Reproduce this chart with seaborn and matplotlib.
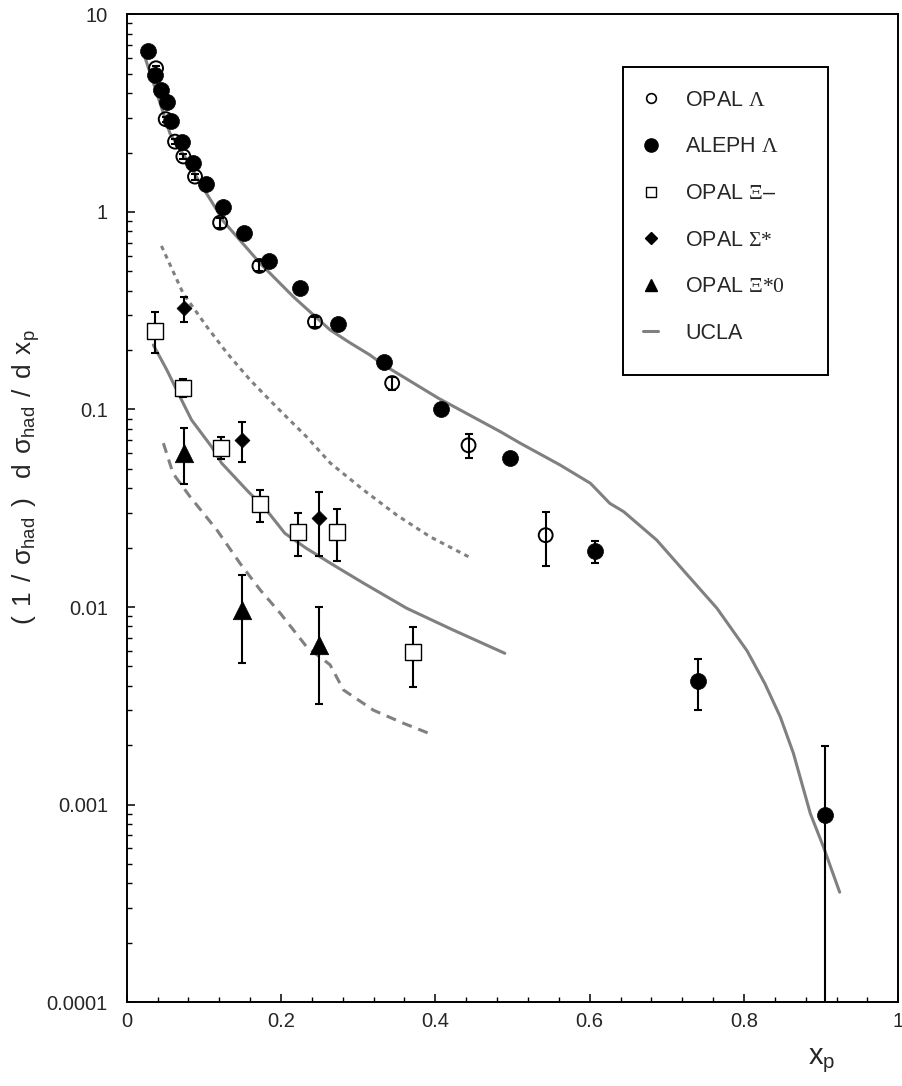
import numpy as np
import pandas as pd
import matplotlib
matplotlib.use("Agg")
import matplotlib.pyplot as plt
import seaborn as sns
from matplotlib.lines import Line2D
from matplotlib.patches import Rectangle
from matplotlib.ticker import FixedLocator, FixedFormatter, MultipleLocator, NullFormatter, LogLocator

# ---------------- data ----------------
aleph_x = [0.028, 0.037, 0.044, 0.052, 0.058, 0.071, 0.086, 0.103, 0.125, 0.152, 0.184,
           0.224, 0.274, 0.334, 0.407, 0.497, 0.607, 0.741, 0.905]
aleph_y = [6.56, 4.94, 4.15, 3.62, 2.90, 2.27, 1.78, 1.38, 1.06, 0.786, 0.565,
           0.414, 0.271, 0.173, 0.101, 0.0566, 0.0192, 0.00422, 0.00089]
aleph_lo = [6.40, 4.82, 4.05, 3.53, 2.83, 2.21, 1.74, 1.35, 1.03, 0.767, 0.551,
            0.404, 0.264, 0.169, 0.0985, 0.0552, 0.0167, 0.0030, 0.00001]
aleph_hi = [6.72, 5.06, 4.25, 3.71, 2.97, 2.33, 1.82, 1.41, 1.09, 0.805, 0.579,
            0.424, 0.278, 0.177, 0.1035, 0.0580, 0.0217, 0.00543, 0.00198]

opal_lam_x = [0.038, 0.0505, 0.0626, 0.0734, 0.0885, 0.121, 0.172, 0.244, 0.344, 0.443, 0.543]
opal_lam_y = [5.34, 2.95, 2.27, 1.91, 1.51, 0.883, 0.533, 0.278, 0.136, 0.0659, 0.0231]
opal_lam_lo = [5.18, 2.86, 2.20, 1.85, 1.46, 0.830, 0.501, 0.261, 0.1256, 0.0570, 0.0161]
opal_lam_hi = [5.50, 3.04, 2.34, 1.97, 1.56, 0.936, 0.565, 0.295, 0.1456, 0.0751, 0.0302]

xim_x = [0.0367, 0.0726, 0.1218, 0.1728, 0.2224, 0.273, 0.3714]
xim_y = [0.2506, 0.129, 0.0641, 0.0331, 0.024, 0.024, 0.00594]
xim_lo = [0.1926, 0.116, 0.0562, 0.027, 0.0181, 0.017, 0.00392]
xim_hi = [0.312, 0.142, 0.0723, 0.0391, 0.030, 0.0313, 0.00794]

sig_x = [0.0746, 0.1498, 0.2496]
sig_y = [0.3276, 0.0702, 0.0281]
sig_lo = [0.278, 0.054, 0.0181]
sig_hi = [0.372, 0.0861, 0.0381]

xi0_x = [0.0746, 0.1498, 0.2496]
xi0_y = [0.060, 0.00966, 0.00643]
xi0_lo = [0.042, 0.00522, 0.00323]
xi0_hi = [0.0803, 0.0145, 0.01003]

lam_curve_x = [0.024, 0.039, 0.056, 0.078, 0.095, 0.117, 0.125, 0.173, 0.216, 0.2635, 0.289,
               0.315, 0.333, 0.404, 0.484, 0.510, 0.5615, 0.601, 0.626, 0.644, 0.687, 0.721,
               0.765, 0.804, 0.827, 0.847, 0.864, 0.886, 0.903, 0.924]
lam_curve_y = [6.0, 3.99, 2.50, 1.83, 1.40, 1.02, 0.90, 0.549, 0.372, 0.253, 0.218,
               0.189, 0.168, 0.114, 0.0773, 0.0675, 0.0524, 0.0423, 0.0335, 0.0304, 0.0218, 0.0154,
               0.00985, 0.0060, 0.0041, 0.00278, 0.00182, 0.00090, 0.00061, 0.00036]

sig_curve_x = [0.045, 0.073, 0.104, 0.130, 0.160, 0.194, 0.233, 0.264, 0.307, 0.350, 0.393, 0.445]
sig_curve_y = [0.673, 0.388, 0.262, 0.193, 0.141, 0.103, 0.0728, 0.0535, 0.0391, 0.0292, 0.0227, 0.0178]

xim_curve_x = [0.0345, 0.052, 0.069, 0.084, 0.110, 0.123, 0.1555, 0.181, 0.205, 0.233, 0.268,
               0.307, 0.363, 0.423, 0.490]
xim_curve_y = [0.212, 0.1585, 0.116, 0.0885, 0.0648, 0.0535, 0.0391, 0.031, 0.0236, 0.0198, 0.0163,
               0.0132, 0.00985, 0.00765, 0.00583]

xi0_curve_x = [0.0475, 0.060, 0.082, 0.117, 0.147, 0.173, 0.199, 0.233, 0.2635, 0.281, 0.320,
               0.3585, 0.397]
xi0_curve_y = [0.0675, 0.0475, 0.0362, 0.0245, 0.0166, 0.0122, 0.0093, 0.0063, 0.0051, 0.0038,
               0.0030, 0.00258, 0.00225]

x_ticks = [0, 0.2, 0.4, 0.6, 0.8, 1.0]
x_tick_labels = ["0", "0.2", "0.4", "0.6", "0.8", "1"]
y_ticks = [0.0001, 0.001, 0.01, 0.1, 1, 10]
y_tick_labels = ["0.0001", "0.001", "0.01", "0.1", "1", "10"]

legend_labels = [r"OPAL $\mathcal{\Lambda}$", r"ALEPH $\mathcal{\Lambda}$",
                 r"OPAL $\mathcal{\Xi}$–", r"OPAL $\mathcal{\Sigma{*}}$",
                 r"OPAL $\mathcal{\Xi{*}0}$", "UCLA"]

# y-axis title, letter-spaced like the original
_s = r"\hspace{0.45}"
y_title = ("$\\mathrm{(}" + _s + "\\mathrm{1}" + _s + "\\mathrm{/}" + _s +
           "\\sigma_{\\mathrm{had}}" + _s + "\\mathrm{)}" + _s + _s +
           "\\mathrm{d}" + _s + "\\sigma_{\\mathrm{had}}" + _s +
           "\\mathrm{/}" + _s + "\\mathrm{d}" + _s + "\\mathrm{x}_{\\mathrm{p}}$")
x_title = r"x$_{\rm p}$"

# ---------------- style ----------------
sns.set_theme(style="white")
plt.rcParams["font.family"] = ["Liberation Sans", "DejaVu Sans"]
plt.rcParams["mathtext.fontset"] = "custom"
plt.rcParams["mathtext.rm"] = "Liberation Sans"
plt.rcParams["mathtext.it"] = "Liberation Sans"
plt.rcParams["mathtext.sf"] = "Liberation Sans"
plt.rcParams["mathtext.cal"] = "Liberation Serif"

GRAY = "#808080"
LW = 2.2

fig = plt.figure(figsize=(9.02, 10.86), dpi=100)
ax = fig.add_axes([0.1405, 0.0773, 0.8554, 0.9094])
ax.set_yscale("log")

# ---------------- model curves ----------------
sns.lineplot(x=lam_curve_x, y=lam_curve_y, ax=ax, color=GRAY, lw=LW, sort=False,
             estimator=None, zorder=1)
sns.lineplot(x=xim_curve_x, y=xim_curve_y, ax=ax, color=GRAY, lw=LW, sort=False,
             estimator=None, zorder=1)
sns.lineplot(x=sig_curve_x, y=sig_curve_y, ax=ax, color=GRAY, lw=LW, sort=False,
             estimator=None, zorder=1, linestyle=(0, (1.5, 1.5)), dash_capstyle="butt")
sns.lineplot(x=xi0_curve_x, y=xi0_curve_y, ax=ax, color=GRAY, lw=LW, sort=False,
             estimator=None, zorder=1, linestyle=(0, (3.3, 2.3)), dash_capstyle="butt")

# ---------------- error bars ----------------
def ebar(x, y, lo, hi):
    y = np.asarray(y); lo = np.asarray(lo); hi = np.asarray(hi)
    ax.errorbar(x, y, yerr=[y - lo, hi - y], fmt="none", ecolor="black",
                elinewidth=1.5, capsize=3.0, capthick=1.5, zorder=2)

ebar(opal_lam_x, opal_lam_y, opal_lam_lo, opal_lam_hi)
ebar(aleph_x, aleph_y, aleph_lo, aleph_hi)
ebar(xim_x, xim_y, xim_lo, xim_hi)
ebar(sig_x, sig_y, sig_lo, sig_hi)
ebar(xi0_x, xi0_y, xi0_lo, xi0_hi)

# ---------------- data markers ----------------
sns.scatterplot(x=opal_lam_x, y=opal_lam_y, ax=ax, marker="o", s=100, color="black",
                edgecolor="black", linewidth=1.4, zorder=3)
ax.collections[-1].set_facecolor("none")
sns.scatterplot(x=aleph_x, y=aleph_y, ax=ax, marker="o", s=132, color="black",
                edgecolor="black", linewidth=0.5, zorder=4)
sns.scatterplot(x=xim_x, y=xim_y, ax=ax, marker="s", s=117, color="white",
                edgecolor="black", linewidth=1.0, zorder=3)
sns.scatterplot(x=sig_x, y=sig_y, ax=ax, marker="D", s=58, color="black",
                edgecolor="black", linewidth=0.5, zorder=3)
sns.scatterplot(x=xi0_x, y=xi0_y, ax=ax, marker="^", s=177, color="black",
                edgecolor="black", linewidth=0.5, zorder=3)

# ---------------- axes ----------------
ax.set_xlim(0, 1)
ax.set_ylim(0.0001, 10)
ax.xaxis.set_major_locator(FixedLocator(x_ticks))
ax.xaxis.set_major_formatter(FixedFormatter(x_tick_labels))
ax.xaxis.set_minor_locator(MultipleLocator(0.04))
ax.yaxis.set_major_locator(FixedLocator(y_ticks))
ax.yaxis.set_major_formatter(FixedFormatter(y_tick_labels))
ax.yaxis.set_minor_locator(LogLocator(base=10, subs=np.arange(2, 10)))
ax.yaxis.set_minor_formatter(NullFormatter())

ax.tick_params(axis="both", which="both", direction="in", color="black",
               bottom=True, left=True, top=False, right=False)
ax.tick_params(axis="both", which="major", length=6, width=1.1, labelsize=14.5)
ax.tick_params(axis="both", which="minor", length=3.3, width=1.0)
ax.tick_params(axis="y", which="major", pad=13.5)
ax.tick_params(axis="x", which="major", pad=7)

for sp in ax.spines.values():
    sp.set_visible(True)
    sp.set_color("black")
    sp.set_linewidth(1.4)
ax.grid(False)
ax.set_facecolor("white")

ax.set_ylabel(y_title, fontsize=19)
ax.yaxis.set_label_coords(-0.11, 0.531)
ax.set_xlabel(x_title, fontsize=21)
ax.xaxis.set_label_coords(0.901, -0.045)

# ---------------- legend ----------------
handles = [
    Line2D([], [], ls="none", marker="o", ms=7, mfc="none", mec="black", mew=1.2),
    Line2D([], [], ls="none", marker="o", ms=9.5, mfc="black", mec="black"),
    Line2D([], [], ls="none", marker="s", ms=7, mfc="white", mec="black", mew=1.0),
    Line2D([], [], ls="none", marker="D", ms=6, mfc="black", mec="black"),
    Line2D([], [], ls="none", marker="^", ms=8, mfc="black", mec="black"),
    Line2D([], [], color=GRAY, lw=LW),
]
leg = ax.legend(handles, legend_labels, loc="upper left",
                bbox_to_anchor=((643 - 126.7) / 771.6, (1002 - 89.9) / 987.5),
                frameon=False, fontsize=15.5, borderpad=0, borderaxespad=0,
                handlelength=0.7, handletextpad=1.25, labelspacing=1.19)
ax.add_patch(Rectangle(((623 - 126.7) / 771.6, (1002 - 375) / 987.5),
                       205 / 771.6, 308 / 987.5, transform=ax.transAxes,
                       fill=False, edgecolor="black", linewidth=1.4, zorder=5,
                       clip_on=False))

fig.savefig("out.png", dpi=100, facecolor="white")
